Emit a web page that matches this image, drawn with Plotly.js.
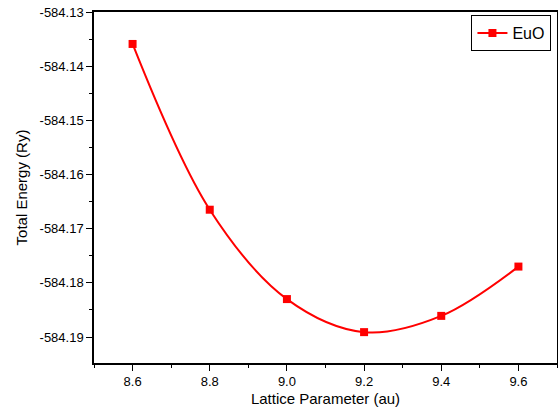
<!DOCTYPE html>
<html><head><meta charset="utf-8">
<script src="https://cdn.plot.ly/plotly-3.0.1.min.js"></script>
<style>html,body{margin:0;padding:0;background:#fff}#c{width:558px;height:412px}</style>
</head><body><div id="c"></div>
<script>
const latticeParam = [8.6, 8.8, 9.0, 9.2, 9.4, 9.6];
const totalEnergy = [-584.1359, -584.1665, -584.1830, -584.1891, -584.1861, -584.1770];
const seriesName = 'EuO';
const xTickVals = [8.6, 8.8, 9.0, 9.2, 9.4, 9.6];
const yTickVals = [-584.19, -584.18, -584.17, -584.16, -584.15, -584.14, -584.13];

const font = 'Liberation Sans, Arial, sans-serif';
Plotly.newPlot('c', [{
  x: latticeParam, y: totalEnergy, name: seriesName,
  type: 'scatter', mode: 'lines+markers',
  line: {color: '#ff0000', width: 2, shape: 'spline', smoothing: 1},
  marker: {color: '#ff0000', symbol: 'square', size: 8}
}], {
  width: 558, height: 412,
  margin: {l: 94, r: 1, t: 12, b: 49},
  paper_bgcolor: '#fff', plot_bgcolor: '#fff',
  font: {family: font, color: '#000', size: 13},
  showlegend: true,
  legend: {x: 0.988, y: 0.991, xanchor: 'right', yanchor: 'top', bordercolor: '#000', borderwidth: 1,
    font: {size: 16, family: font}, bgcolor: '#fff', itemwidth: 30},
  xaxis: {
    range: [8.5, 9.7], tickvals: xTickVals, ticktext: xTickVals.map(v => v.toFixed(1)),
    ticks: 'outside', ticklen: 6, tickwidth: 1.2, tickcolor: '#000',
    showline: true, linecolor: '#000', linewidth: 1.5, mirror: true, showgrid: false, zeroline: false,
    minor: {dtick: 0.1, tick0: 8.5, ticks: 'outside', ticklen: 3, tickcolor: '#000', tickwidth: 1.2, showgrid: false},
    title: {text: 'Lattice Parameter (au)', font: {size: 15, family: font}, standoff: 5},
    tickfont: {size: 13, family: font}
  },
  yaxis: {
    range: [-584.1948, -584.13], tickvals: yTickVals, ticktext: yTickVals.map(v => v.toFixed(2)),
    ticks: 'outside', ticklen: 6, tickwidth: 1.2, tickcolor: '#000',
    showline: true, linecolor: '#000', linewidth: 1.5, mirror: true, showgrid: false, zeroline: false,
    minor: {dtick: 0.005, tick0: -584.13, ticks: 'outside', ticklen: 3, tickcolor: '#000', tickwidth: 1.2, showgrid: false},
    title: {text: 'Total Energy (Ry)', font: {size: 15, family: font}, standoff: 8},
    tickfont: {size: 13, family: font}
  }
}, {displayModeBar: false});
</script></body></html>
